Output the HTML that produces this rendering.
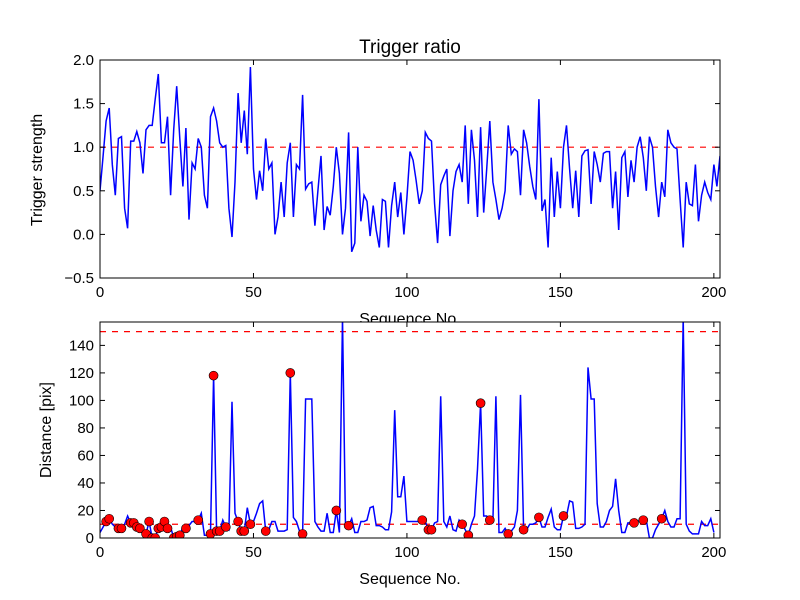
<!DOCTYPE html>
<html><head><meta charset="utf-8"><style>
body{margin:0;background:#fff}
svg{display:block;font-family:"Liberation Sans","DejaVu Sans",sans-serif}
</style></head><body>
<svg id="chart" width="800" height="600"></svg>
<script>
const xTicks=[0,50,100,150,200];
const topTicks=[-0.5,0.0,0.5,1.0,1.5,2.0];
const topTickLabels=["−0.5","0.0","0.5","1.0","1.5","2.0"];
const botTicks=[0,20,40,60,80,100,120,140];
const ratio=[0.5,0.9,1.3,1.45,0.8,0.45,1.1,1.12,0.3,0.07,1.07,1.07,1.18,1.05,0.7,1.2,1.25,1.25,1.55,1.84,1.05,1.05,1.35,0.45,1.2,1.7,1.1,0.55,1.22,0.17,0.82,0.75,1.1,1.0,0.45,0.3,1.35,1.45,1.3,1.05,1.0,1.02,0.3,-0.03,0.6,1.62,1.05,1.42,0.92,1.92,0.75,0.4,0.73,0.5,1.1,0.75,0.82,0.0,0.2,0.6,0.2,0.82,1.05,0.2,0.8,0.75,1.6,0.52,0.58,0.6,0.1,0.5,0.9,0.05,0.32,0.22,0.55,1.0,0.7,0.0,0.3,1.17,-0.2,-0.1,1.0,0.15,0.45,0.38,-0.02,0.33,0.05,-0.15,0.4,0.38,-0.15,0.33,0.6,0.2,0.48,0.0,0.42,0.95,0.85,0.62,0.35,0.5,1.17,1.1,1.07,0.35,-0.1,0.57,0.67,0.75,-0.02,0.5,0.72,0.8,0.6,1.25,0.35,1.2,0.85,0.2,1.23,0.25,0.75,1.3,0.6,0.4,0.17,0.3,0.5,1.25,0.92,0.98,0.95,0.45,1.2,1.05,0.78,0.55,0.4,1.55,0.27,0.4,-0.15,0.88,0.2,0.72,0.3,1.0,1.25,0.75,0.3,0.73,0.2,0.9,0.96,0.97,0.35,0.95,0.8,0.6,0.93,0.95,0.95,0.3,0.72,0.05,0.88,0.95,0.43,0.85,0.6,1.0,1.12,0.88,0.5,1.12,1.0,0.55,0.2,0.6,0.43,1.2,1.05,1.0,0.98,0.4,-0.15,0.6,0.35,0.33,0.8,0.15,0.45,0.6,0.48,0.4,0.8,0.55,0.9];
const dist=[4,8,12,14,10,8,7,7,10,16,11,11,8,7,6,3,12,0,0,7,8,12,7,8,0,1,2,8,7,9,12,12,13,18,2,2,3,118,5,5,13,8,6,99,18,12,5,5,22,10,12,18,25,27,5,6,12,12,5,5,5,6,120,15,12,5,3,101,101,101,12,8,5,5,18,4,4,20,4,160,8,9,14,4,4,12,12,13,22,23,9,9,8,6,6,19,93,30,30,45,12,12,12,12,12,13,12,6,6,11,12,103,12,8,16,6,5,13,10,6,2,10,16,50,98,16,16,13,12,103,4,4,7,3,5,8,20,104,6,6,10,10,11,15,8,8,15,21,8,6,6,16,16,27,26,7,7,8,10,124,101,101,25,8,8,12,20,23,43,20,4,4,11,11,11,12,13,13,13,0,0,6,10,14,20,12,8,8,14,14,160,10,5,3,3,3,12,9,9,14,4];
const dotIdx=[2,3,6,7,10,11,12,13,15,16,17,18,19,20,21,22,24,25,26,28,32,36,37,38,39,41,45,46,47,49,54,62,66,77,81,105,107,108,118,120,124,127,133,138,143,151,174,177,183];
const NS="http://www.w3.org/2000/svg";
const svg=document.getElementById('chart');
function mk(t,a,p){const e=document.createElementNS(NS,t);for(const k in a)e.setAttribute(k,a[k]);(p||svg).appendChild(e);return e;}
const L=100,R=720,X1=202;
const sx=v=>L+(v-0)/(X1-0)*(R-L);
const T={top:60,bot:278,min:-0.5,max:2.0};
const B={top:322,bot:538,min:0,max:157};
const syT=v=>T.bot-(v-T.min)/(T.max-T.min)*(T.bot-T.top);
const syB=v=>B.bot-(v-B.min)/(B.max-B.min)*(B.bot-B.top);
const defs=mk('defs',{});
const c1=mk('clipPath',{id:'c1'},defs);mk('rect',{x:L,y:T.top,width:R-L,height:T.bot-T.top},c1);
const c2=mk('clipPath',{id:'c2'},defs);mk('rect',{x:L,y:B.top,width:R-L,height:B.bot-B.top},c2);

function txt(x,y,s,attrs,name){const e=mk('text',Object.assign({x:x,y:y,'font-size':15,fill:'#000'},attrs||{}));e.textContent=s;

return e;}

// title
txt(410,53,"Trigger ratio",{'text-anchor':'middle','font-size':19},'chart-title');
// top panel
const g1=mk('g',{});


mk('rect',{x:L,y:T.top,width:R-L,height:T.bot-T.top,fill:'#fff'},g1);
mk('line',{x1:L,x2:R,y1:syT(1),y2:syT(1),stroke:'#f00','stroke-width':1.2,'stroke-dasharray':'6,6'},g1);
let d=ratio.map((v,i)=>(i?'L':'M')+sx(i).toFixed(1)+','+syT(v).toFixed(1)).join('');
const p1=mk('path',{d:d,fill:'none',stroke:'#0000ff','stroke-width':1.5,'clip-path':'url(#c1)'},g1);


mk('rect',{x:L,y:T.top,width:R-L,height:T.bot-T.top,fill:'none',stroke:'#000','stroke-width':1},g1);
xTicks.forEach(t=>{const x=sx(t);mk('line',{x1:x,x2:x,y1:T.bot,y2:T.bot-5,stroke:'#000'},g1);mk('line',{x1:x,x2:x,y1:T.top,y2:T.top+5,stroke:'#000'},g1);
txt(x,T.bot+19,String(t),{'text-anchor':'middle'},'top-x-tick-label');});
topTicks.forEach((t,i)=>{const y=syT(t);mk('line',{x1:L,x2:L+5,y1:y,y2:y,stroke:'#000'},g1);mk('line',{x1:R,x2:R-5,y1:y,y2:y,stroke:'#000'},g1);
txt(L-6,y+5,topTickLabels[i],{'text-anchor':'end'},'top-y-tick-label');});
txt(42,170,"Trigger strength",{'text-anchor':'middle','font-size':16,transform:'rotate(-90 42 170)'},'top-y-axis-title');
txt(410,324,"Sequence No.",{'text-anchor':'middle','font-size':16},'top-x-axis-title');

// bottom panel
const g2=mk('g',{});


mk('rect',{x:L,y:B.top,width:R-L,height:B.bot-B.top,fill:'#fff'},g2);
[10,150].forEach(v=>{const l=mk('line',{x1:L,x2:R,y1:syB(v),y2:syB(v),stroke:'#f00','stroke-width':1.2,'stroke-dasharray':'6,6'},g2);
});
d=dist.map((v,i)=>(i?'L':'M')+sx(i).toFixed(1)+','+syB(v).toFixed(1)).join('');
const p2=mk('path',{d:d,fill:'none',stroke:'#0000ff','stroke-width':1.5,'clip-path':'url(#c2)'},g2);


dotIdx.forEach(i=>{const c=mk('circle',{cx:sx(i),cy:syB(dist[i]),r:4.5,fill:'#f00',stroke:'#000','stroke-width':0.6,'clip-path':'url(#c2)'},g2);

});
mk('rect',{x:L,y:B.top,width:R-L,height:B.bot-B.top,fill:'none',stroke:'#000','stroke-width':1},g2);
xTicks.forEach(t=>{const x=sx(t);mk('line',{x1:x,x2:x,y1:B.bot,y2:B.bot-5,stroke:'#000'},g2);mk('line',{x1:x,x2:x,y1:B.top,y2:B.top+5,stroke:'#000'},g2);
txt(x,B.bot+19,String(t),{'text-anchor':'middle'},'bottom-x-tick-label');});
botTicks.forEach(t=>{const y=syB(t);mk('line',{x1:L,x2:L+5,y1:y,y2:y,stroke:'#000'},g2);mk('line',{x1:R,x2:R-5,y1:y,y2:y,stroke:'#000'},g2);
txt(L-6,y+5,String(t),{'text-anchor':'end'},'bottom-y-tick-label');});
txt(51,430,"Distance [pix]",{'text-anchor':'middle','font-size':16,transform:'rotate(-90 51 430)'},'bottom-y-axis-title');
txt(410,584,"Sequence No.",{'text-anchor':'middle','font-size':16},'bottom-x-axis-title');
</script>
</body></html>
